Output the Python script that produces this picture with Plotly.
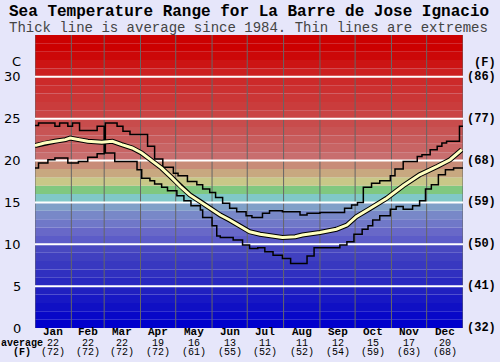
import plotly.graph_objects as go
import numpy as np

# ---------------- data ----------------
months = ['Jan', 'Feb', 'Mar', 'Apr', 'May', 'Jun', 'Jul', 'Aug', 'Sep', 'Oct', 'Nov', 'Dec']
month_len = [31, 28, 31, 30, 31, 30, 31, 31, 30, 31, 30, 31]
avg_c_label = [22, 22, 22, 19, 16, 13, 11, 11, 12, 15, 17, 20]
avg_f_label = [72, 72, 72, 72, 61, 55, 52, 52, 54, 59, 63, 68]

c_ticks = [0, 5, 10, 15, 20, 25, 30]
f_ticks = [32, 41, 50, 59, 68, 77, 86]

avg_day = [0, 8, 17, 26, 30, 37, 45, 57, 66, 74, 83, 91, 100, 108, 117, 124, 132, 141,
           149, 158, 166, 175, 183, 192, 200, 211, 222, 228, 243, 257, 266, 274, 286,
           300, 314, 328, 343, 354, 364]
avg_val = [21.8, 22.1, 22.3, 22.5, 22.7, 22.5, 22.3, 22.2, 22.3, 21.9, 21.5, 20.9, 20.0,
           19.1, 17.9, 16.9, 15.9, 15.1, 14.3, 13.5, 12.9, 12.2, 11.5, 11.2, 11.0, 10.8,
           10.9, 11.1, 11.4, 11.8, 12.3, 13.3, 14.3, 15.5, 17.0, 18.3, 19.3, 20.1, 21.3]

max_day = [0, 3, 17, 21, 28, 32, 38, 53, 59, 60, 70, 75, 81, 96, 102, 109, 118, 122, 130,
           138, 143, 149, 154, 160, 166, 172, 180, 185, 194, 200, 211, 226, 232, 243, 264,
           270, 275, 280, 287, 294, 303, 307, 314, 326, 330, 337, 343, 347, 351, 362, 365]
max_val = [24.2, 24.5, 24.1, 24.5, 24.1, 24.5, 23.6, 24.1, 22.4, 24.5, 24.1, 23.5, 23.1,
           21.7, 20.2, 19.2, 18.5, 18.2, 17.5, 17.1, 16.6, 16.2, 15.6, 14.9, 14.3, 13.9,
           13.4, 13.2, 13.7, 14.0, 13.9, 13.5, 13.7, 13.8, 14.3, 14.7, 15.0, 16.8, 17.3,
           17.6, 18.2, 19.0, 19.9, 20.5, 20.7, 21.3, 21.7, 22.1, 22.3, 24.1, 24.1]

min_day = [0, 3, 11, 17, 28, 37, 45, 53, 59, 60, 68, 87, 91, 98, 102, 108, 113, 121, 127,
           133, 141, 143, 151, 155, 158, 169, 177, 183, 190, 196, 203, 211, 218, 232, 238,
           260, 266, 272, 279, 284, 288, 294, 303, 308, 314, 322, 328, 333, 338, 344, 350,
           357, 365]
min_val = [19.1, 19.7, 20.1, 20.3, 19.7, 19.9, 20.4, 20.8, 22.4, 20.9, 19.9, 18.9, 17.9,
           17.6, 17.2, 16.8, 16.4, 15.8, 15.2, 14.6, 14.1, 13.2, 12.2, 11.0, 10.8, 10.5,
           9.9, 9.5, 9.6, 9.1, 8.7, 8.3, 7.7, 8.6, 9.6, 9.9, 10.3, 11.2, 11.8, 12.2, 12.9,
           13.4, 14.2, 14.5, 14.2, 14.6, 15.2, 16.6, 17.1, 18.3, 18.9, 19.1, 19.1]

# ---------------- styling ----------------
band_colors = ['#0000CC', '#0808C8', '#1010C4', '#1818C4', '#2020C0', '#2828C0', '#3030C0',
               '#3838C0', '#4040C0', '#4848C0', '#5C5CC8', '#6868C8', '#7078C8', '#7888C8',
               '#80A0C8', '#80C8C8', '#80C880', '#C8C888', '#C8A880', '#C88C78', '#C86E6E',
               '#C86464', '#C85C5C', '#C85454', '#C84C4C', '#CA4444', '#CA3C3C', '#CB3636',
               '#CC3030', '#CC2A2A', '#CC2020', '#CC1414', '#CC0808', '#CC0000', '#CC0000']

MONO = 'Liberation Mono'
SANS = 'DejaVu Sans'
W, H = 500, 362
L, R, T, B = 35, 37, 35, 34
pw, ph = W - L - R, H - T - B

fig = go.Figure()

shapes = []
for i, col in enumerate(band_colors):
    shapes.append(dict(type='rect', xref='paper', yref='y', x0=0, x1=1, y0=i, y1=i + 1,
                       fillcolor=col, line=dict(width=0), layer='below'))
bounds = np.concatenate([[0], np.cumsum(month_len)])
for b in bounds:
    shapes.append(dict(type='line', xref='x', yref='paper', x0=b, x1=b, y0=0, y1=1,
                       line=dict(color='#666666', width=1), layer='below'))
for v in c_ticks[1:]:
    shapes.append(dict(type='line', xref='paper', yref='y', x0=0, x1=1, y0=v, y1=v,
                       line=dict(color='white', width=2), layer='below'))

fig.add_trace(go.Scatter(x=max_day, y=max_val, mode='lines', line_shape='hv',
                         line=dict(color='black', width=1.5), hoverinfo='skip'))
fig.add_trace(go.Scatter(x=min_day, y=min_val, mode='lines', line_shape='hv',
                         line=dict(color='black', width=1.5), hoverinfo='skip'))
fig.add_trace(go.Scatter(x=avg_day, y=avg_val, mode='lines',
                         line=dict(color='black', width=5), hoverinfo='skip'))
fig.add_trace(go.Scatter(x=avg_day, y=avg_val, mode='lines',
                         line=dict(color='#FFFFC0', width=3), hoverinfo='skip'))

ann = []
def py2paper(py):
    return (H - B - py) / ph
def px2paper(px):
    return (px - L) / pw

ann.append(dict(text='<b>Sea Temperature Range for La Barre de Jose Ignacio</b>',
                xref='paper', yref='paper', x=px2paper(249), y=py2paper(12),
                xanchor='center', yanchor='middle', showarrow=False,
                font=dict(family=MONO, size=16, color='black')))
ann.append(dict(text='Thick line is average since 1984. Thin lines are extremes',
                xref='paper', yref='paper', x=px2paper(248), y=py2paper(28),
                xanchor='center', yanchor='middle', showarrow=False,
                font=dict(family=MONO, size=14, color='#444444')))

for c, f in zip(c_ticks, f_ticks):
    ann.append(dict(text=str(c), xref='paper', yref='y', x=0, y=c, xanchor='right',
                    yanchor='middle', xshift=-12, showarrow=False,
                    font=dict(family=SANS, size=13, color='black')))
    ann.append(dict(text='<b>(%d)</b>' % f, xref='paper', yref='y', x=1, y=c,
                    xanchor='left', yanchor='middle', xshift=2, showarrow=False,
                    font=dict(family=MONO, size=12, color='black')))
ann.append(dict(text='C', xref='paper', yref='paper', x=0, y=py2paper(61), xanchor='right',
                yanchor='middle', xshift=-12, showarrow=False,
                font=dict(family=SANS, size=13, color='black')))
ann.append(dict(text='<b>(F)</b>', xref='paper', yref='paper', x=px2paper(472), y=py2paper(63),
                xanchor='left', yanchor='middle', showarrow=False,
                font=dict(family=MONO, size=12, color='black')))

centers = bounds[:-1] + np.array(month_len) / 2.0
for m, cx, ac, af in zip(months, centers, avg_c_label, avg_f_label):
    ann.append(dict(text='<b>%s</b>' % m, xref='x', yref='paper', x=cx, y=py2paper(332.5),
                    xanchor='center', yanchor='middle', showarrow=False,
                    font=dict(family=MONO, size=11, color='black')))
    ann.append(dict(text=str(ac), xref='x', yref='paper', x=cx, y=py2paper(343),
                    xanchor='center', yanchor='middle', showarrow=False,
                    font=dict(family=MONO, size=10, color='black')))
    ann.append(dict(text='(%d)' % af, xref='x', yref='paper', x=cx, y=py2paper(352.5),
                    xanchor='center', yanchor='middle', showarrow=False,
                    font=dict(family=MONO, size=10, color='black')))
ann.append(dict(text='<b>average</b>', xref='paper', yref='paper', x=px2paper(22), y=py2paper(343),
                xanchor='center', yanchor='middle', showarrow=False,
                font=dict(family=MONO, size=10, color='black')))
ann.append(dict(text='<b>(F)</b>', xref='paper', yref='paper', x=px2paper(22), y=py2paper(352.5),
                xanchor='center', yanchor='middle', showarrow=False,
                font=dict(family=MONO, size=10, color='black')))

fig.update_layout(
    width=W, height=H, margin=dict(l=L, r=R, t=T, b=B, pad=0),
    paper_bgcolor='#E6E6FA', plot_bgcolor='#E6E6FA',
    showlegend=False, shapes=shapes, annotations=ann,
    xaxis=dict(range=[0, 365], showticklabels=False, showgrid=False, zeroline=False,
               fixedrange=True),
    yaxis=dict(range=[0, 35], showticklabels=False, showgrid=False, zeroline=False,
               fixedrange=True),
)

fig.write_html('out.html', config={'displayModeBar': False},
               post_script="document.body.style.margin='0';document.body.style.overflow='hidden';")
